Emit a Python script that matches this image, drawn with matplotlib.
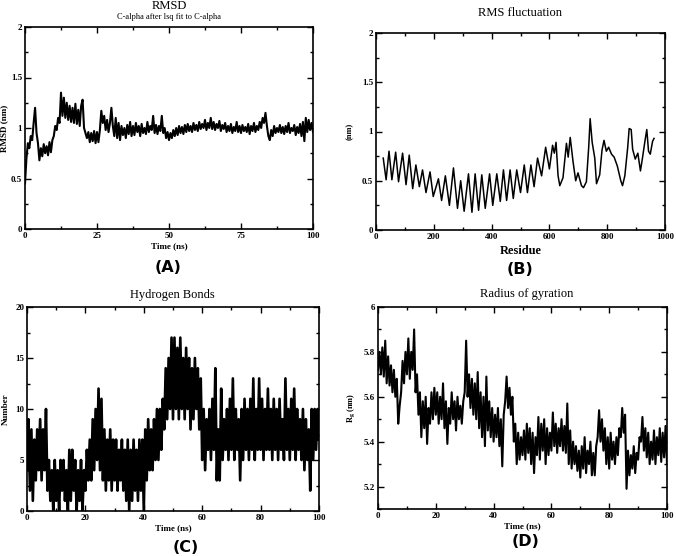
import numpy as np
import matplotlib
matplotlib.use("Agg")
import matplotlib.pyplot as plt
from matplotlib.ticker import MultipleLocator, FuncFormatter

plt.rcParams["font.family"] = ["Liberation Serif", "DejaVu Serif"]

# ---------------- data ----------------
# (A) RMSD, one value every 0.5 ns
rmsd_time = np.arange(0, 100.01, 0.5)
rmsd_nm = [
    0.45, 0.70, 0.85, 0.80, 0.92, 0.88, 1.05, 1.20, 0.95, 0.85,
    0.68, 0.80, 0.72, 0.84, 0.75, 0.82, 0.73, 0.86, 0.76, 0.88,
    0.92, 1.02, 0.98, 1.10, 1.05, 1.35, 1.12, 1.30, 1.10, 1.25,
    1.08, 1.22, 1.06, 1.20, 1.05, 1.24, 1.04, 1.18, 1.02, 1.22,
    1.28, 1.00, 0.95, 0.90, 0.96, 0.86, 0.95, 0.87, 0.97, 0.85,
    0.96, 0.86, 0.98, 1.17, 1.05, 1.12, 0.98, 1.08, 0.96, 1.05,
    1.20, 1.02, 0.92, 1.10, 0.90, 1.05, 0.88, 1.02, 0.93, 1.00,
    0.90, 1.03, 0.94, 1.06, 0.92, 1.02, 0.93, 1.05, 0.96, 1.02,
    0.92, 1.04, 0.95, 1.00, 0.94, 1.06, 0.96, 1.02, 0.98, 1.12,
    0.95, 1.03, 0.94, 1.02, 0.97, 1.12, 0.95, 1.00, 0.90, 0.96,
    0.88, 0.95, 0.90, 0.98, 0.92, 1.00, 0.93, 1.02, 0.95, 1.01,
    0.94, 1.03, 0.96, 1.04, 0.97, 1.02, 0.96, 1.05, 0.98, 1.03,
    0.97, 1.06, 0.99, 1.04, 1.00, 1.08, 0.98, 1.05, 1.00, 1.10,
    0.99, 1.06, 0.98, 1.04, 1.00, 1.07, 0.97, 1.03, 0.99, 1.05,
    0.96, 1.02, 0.97, 1.04, 0.95, 1.01, 0.97, 1.06, 0.96, 1.02,
    0.95, 1.03, 0.97, 1.01, 0.96, 1.04, 0.94, 1.02, 0.97, 1.05,
    0.96, 1.02, 0.98, 1.06, 1.00, 1.10, 1.05, 1.15, 1.02, 0.92,
    0.88, 0.98, 0.92, 1.02, 0.95, 1.00, 0.96, 1.03, 0.95, 1.01,
    0.94, 1.02, 0.96, 1.05, 0.95, 1.00, 0.97, 1.03, 0.93, 1.01,
    0.95, 1.04, 0.92, 1.06, 0.87, 1.10, 0.96, 1.08, 0.98, 1.05, 0.96,
]

# (B) RMS fluctuation, peaks and troughs per residue
rmsf_res = [
    25, 35, 45, 55, 68, 78, 92, 104, 115, 127, 138, 150, 161, 173, 187, 198,
    216, 227, 240, 254, 268, 282, 293, 305, 320, 332, 343, 355, 366, 378,
    393, 404, 418, 430, 441, 452, 464, 475, 487, 500, 513, 524, 536, 547,
    559, 573, 587, 600, 611, 617, 623, 630, 636, 647, 659, 665, 672, 682,
    691, 699, 711, 718, 728, 736, 741, 748, 757, 763, 774, 782, 789, 797,
    805, 815, 824, 835, 847, 853, 861, 871, 876, 883, 888, 897, 906, 915,
    922, 931, 937, 943, 949, 957, 962,
]
rmsf_nm = [
    0.73, 0.51, 0.80, 0.51, 0.79, 0.49, 0.78, 0.46, 0.76, 0.42, 0.66, 0.44,
    0.61, 0.38, 0.59, 0.34, 0.52, 0.30, 0.55, 0.25, 0.63, 0.22, 0.50, 0.19,
    0.57, 0.18, 0.57, 0.20, 0.56, 0.22, 0.57, 0.25, 0.57, 0.29, 0.61, 0.30,
    0.61, 0.32, 0.61, 0.38, 0.66, 0.38, 0.66, 0.44, 0.73, 0.55, 0.84, 0.62,
    0.86, 0.78, 0.89, 0.55, 0.45, 0.53, 0.88, 0.74, 0.94, 0.69, 0.50, 0.58,
    0.45, 0.43, 0.49, 0.84, 1.13, 0.89, 0.73, 0.47, 0.56, 0.81, 0.91, 0.80,
    0.84, 0.77, 0.74, 0.65, 0.50, 0.45, 0.55, 0.84, 1.03, 1.02, 0.82, 0.72,
    0.78, 0.60, 0.73, 0.91, 1.02, 0.80, 0.77, 0.90, 0.93,
]

# (C) hydrogen bonds, one value every 0.5 ns
hb_time = np.arange(0, 100.01, 0.5)
hb_count = [
    4, 9, 2, 8, 1, 7, 3, 8, 4, 9,
    3, 8, 4, 10, 2, 5, 1, 4, 0, 5,
    1, 4, 0, 5, 2, 5, 1, 4, 0, 6,
    1, 6, 2, 5, 0, 4, 1, 5, 0, 4,
    2, 6, 3, 7, 3, 9, 4, 10, 5, 12,
    4, 11, 3, 8, 2, 7, 3, 8, 2, 7,
    3, 7, 2, 6, 3, 7, 2, 6, 1, 7,
    0, 6, 1, 7, 2, 6, 1, 7, 2, 7,
    0, 8, 3, 9, 4, 8, 4, 9, 5, 10,
    5, 10, 6, 11, 8, 14, 9, 15, 10, 17,
    9, 17, 10, 16, 9, 17, 10, 15, 9, 16,
    10, 15, 8, 14, 9, 15, 10, 14, 8, 13,
    5, 10, 4, 9, 6, 10, 5, 11, 6, 14,
    3, 8, 3, 12, 5, 9, 6, 10, 5, 11,
    6, 13, 5, 10, 6, 9, 3, 10, 5, 11,
    6, 10, 5, 11, 6, 13, 5, 10, 6, 13,
    6, 11, 5, 10, 6, 12, 6, 10, 5, 11,
    6, 10, 5, 11, 6, 9, 5, 13, 6, 10,
    5, 11, 6, 12, 5, 10, 6, 9, 5, 10,
    4, 9, 5, 8, 2, 10, 5, 10, 6, 10, 7,
]

# (D) radius of gyration, one value every 0.5 ns
rg_time = np.arange(0, 100.01, 0.5)
rg_nm = [
    5.72, 5.80, 5.70, 5.82, 5.69, 5.85, 5.66, 5.78, 5.65, 5.74,
    5.62, 5.72, 5.60, 5.68, 5.48, 5.56, 5.62, 5.76, 5.66, 5.80,
    5.70, 5.86, 5.68, 5.80, 5.72, 5.90, 5.62, 5.70, 5.52, 5.62,
    5.42, 5.58, 5.46, 5.60, 5.39, 5.55, 5.48, 5.62, 5.50, 5.64,
    5.52, 5.62, 5.48, 5.60, 5.50, 5.66, 5.46, 5.58, 5.39, 5.55,
    5.48, 5.62, 5.50, 5.58, 5.45, 5.60, 5.50, 5.56, 5.48, 5.58,
    5.62, 5.85, 5.60, 5.70, 5.55, 5.68, 5.52, 5.66, 5.50, 5.71,
    5.46, 5.62, 5.42, 5.60, 5.38, 5.69, 5.45, 5.58, 5.42, 5.55,
    5.40, 5.52, 5.42, 5.55, 5.38, 5.50, 5.29, 5.52, 5.58, 5.69,
    5.55, 5.64, 5.52, 5.60, 5.40, 5.48, 5.30, 5.44, 5.32, 5.42,
    5.34, 5.45, 5.32, 5.48, 5.35, 5.46, 5.30, 5.44, 5.26, 5.42,
    5.34, 5.51, 5.32, 5.48, 5.36, 5.50, 5.30, 5.46, 5.34, 5.44,
    5.36, 5.53, 5.38, 5.48, 5.35, 5.46, 5.38, 5.50, 5.36, 5.47,
    5.35, 5.57, 5.30, 5.45, 5.28, 5.40, 5.30, 5.38, 5.27, 5.36,
    5.24, 5.38, 5.28, 5.42, 5.26, 5.36, 5.30, 5.40, 5.25, 5.35,
    5.25, 5.38, 5.42, 5.54, 5.40, 5.50, 5.36, 5.46, 5.30, 5.42,
    5.28, 5.44, 5.32, 5.40, 5.30, 5.42, 5.34, 5.46, 5.42, 5.55,
    5.44, 5.52, 5.19, 5.36, 5.25, 5.34, 5.28, 5.38, 5.26, 5.35,
    5.32, 5.42, 5.40, 5.51, 5.36, 5.46, 5.33, 5.44, 5.30, 5.40,
    5.32, 5.45, 5.30, 5.42, 5.34, 5.46, 5.31, 5.44, 5.33, 5.47, 5.30,
]

# ---------------- figure ----------------
W, H = 676, 556
fig = plt.figure(figsize=(W / 100, H / 100), dpi=100)


def px_axes(left, top, right, bottom):
    return fig.add_axes([left / W, 1 - bottom / H, (right - left) / W, (bottom - top) / H])


def grace_style(ax, xmaj, xmin, ymaj, ymin):
    ax.xaxis.set_major_locator(MultipleLocator(xmaj))
    ax.xaxis.set_minor_locator(MultipleLocator(xmin))
    ax.yaxis.set_major_locator(MultipleLocator(ymaj))
    ax.yaxis.set_minor_locator(MultipleLocator(ymin))
    fmt = FuncFormatter(lambda v, p: "%g" % round(v, 6))
    ax.xaxis.set_major_formatter(fmt)
    ax.yaxis.set_major_formatter(fmt)
    ax.tick_params(which="both", direction="in", top=True, right=True, width=1.0)
    ax.tick_params(which="major", length=4.5, labelsize=6.5, pad=2)
    ax.tick_params(which="minor", length=2.5)
    for lab in ax.get_xticklabels() + ax.get_yticklabels():
        lab.set_fontweight("bold")
    for sp in ax.spines.values():
        sp.set_linewidth(1.2)


def panel_tag(x, y, s):
    fig.text(x / W, 1 - y / H, s, ha="center", va="center", fontsize=11.5,
             fontweight="bold", family=["DejaVu Sans"])


# (A)
axA = px_axes(25, 27, 313, 229)
axA.plot(rmsd_time, rmsd_nm, color="black", lw=1.5)
axA.set_xlim(0, 100)
axA.set_ylim(0, 2)
grace_style(axA, 25, 12.5, 0.5, 0.25)
axA.set_xlabel("Time (ns)", fontsize=6.5, fontweight="bold", labelpad=2)
axA.set_ylabel("RMSD (nm)", fontsize=6.5, fontweight="bold", labelpad=2)
fig.text(169 / W, 1 - 6 / H, "RMSD", ha="center", va="center", fontsize=9)
fig.text(169 / W, 1 - 17 / H, "C-alpha after lsq fit to C-alpha", ha="center",
         va="center", fontsize=6)
panel_tag(168, 268, "(A)")

# (B)
axB = px_axes(376, 33, 665, 230)
axB.plot(rmsf_res, rmsf_nm, color="black", lw=1.1)
axB.set_xlim(0, 1000)
axB.set_ylim(0, 2)
grace_style(axB, 200, 100, 0.5, 0.25)
axB.set_xlabel("Residue", fontsize=9, fontweight="bold", labelpad=3)
axB.set_ylabel("(nm)", fontsize=6, fontweight="bold", labelpad=6)
fig.text(520 / W, 1 - 13 / H, "RMS fluctuation", ha="center", va="center", fontsize=9)
panel_tag(520, 270, "(B)")

# (C)
axC = px_axes(27, 307, 319, 511)
axC.plot(hb_time, hb_count, color="black", lw=1.9)
axC.set_xlim(0, 100)
axC.set_ylim(0, 20)
grace_style(axC, 20, 10, 5, 2.5)
axC.set_xlabel("Time (ns)", fontsize=6.5, fontweight="bold", labelpad=2)
axC.set_ylabel("Number", fontsize=6.5, fontweight="bold", labelpad=4)
fig.text(172 / W, 1 - 295 / H, "Hydrogen Bonds", ha="center", va="center", fontsize=9)
panel_tag(186, 548, "(C)")

# (D)
axD = px_axes(378, 307, 667, 509)
axD.plot(rg_time, rg_nm, color="black", lw=1.5)
axD.set_xlim(0, 100)
axD.set_ylim(5.1, 6.0)
grace_style(axD, 20, 10, 0.2, 0.1)
axD.set_xlabel("Time (ns)", fontsize=6.5, fontweight="bold", labelpad=2)
axD.set_ylabel("R$_\\mathregular{g}$ (nm)", fontsize=6, fontweight="bold", labelpad=4)
fig.text(527 / W, 1 - 294 / H, "Radius of gyration", ha="center", va="center", fontsize=9)
panel_tag(526, 542, "(D)")

fig.savefig("out.png", dpi=100)
